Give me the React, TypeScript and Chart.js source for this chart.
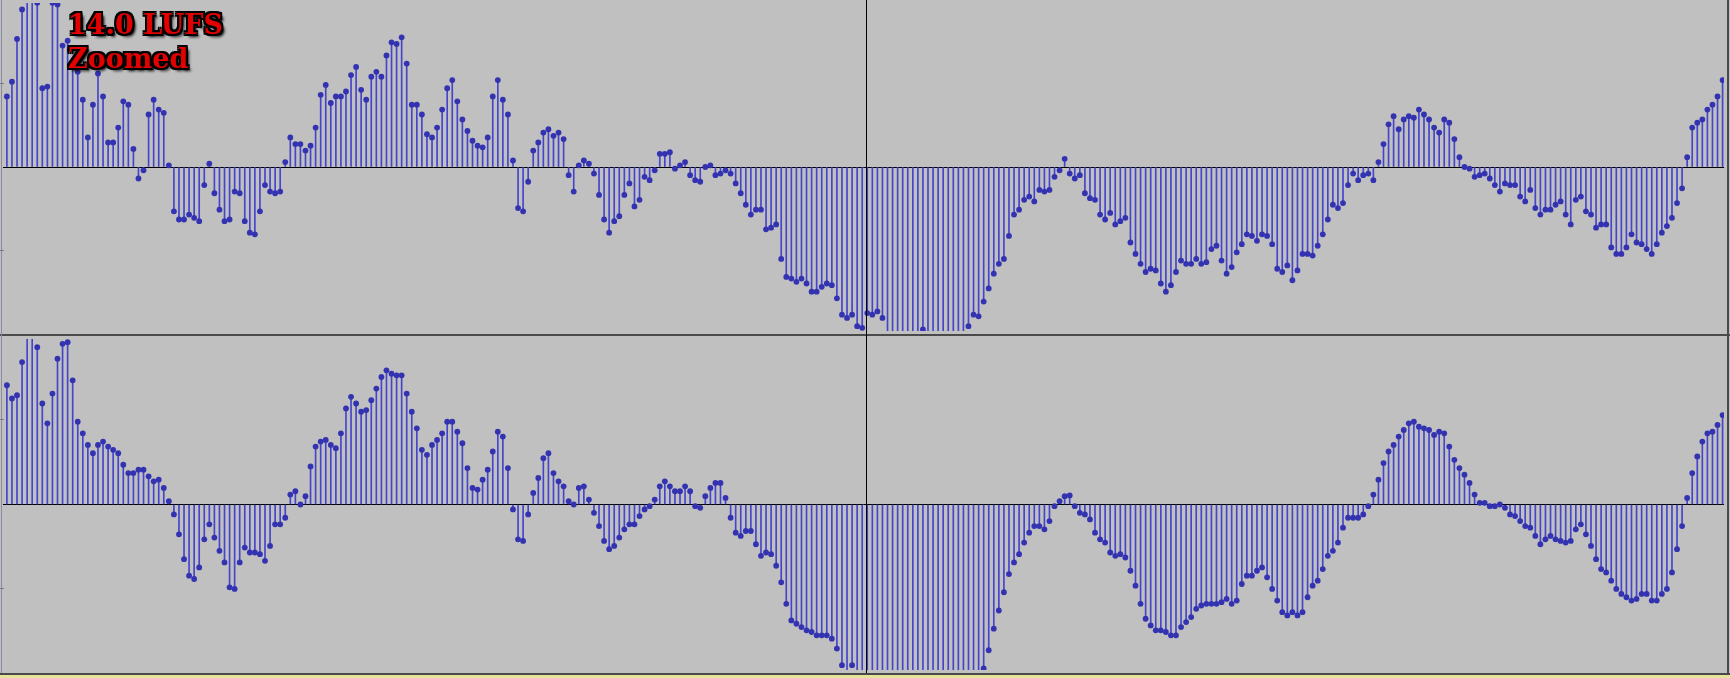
import React, { useEffect, useRef } from "react";
import { Chart, registerables } from "chart.js";

Chart.register(...registerables);

// Top channel (left) sample values, normalised to -1..1 (beyond ±1 is clipped)
const leftSamples: number[] = [
  0.43, 0.52, 0.78, 0.96, 1.1, 1.1, 1.0, 0.48, 0.49, 1.0,
  0.99, 0.74, 0.77, 0.62, 0.58, 0.41, 0.18, 0.38, 0.57, 0.43,
  0.15, 0.15, 0.24, 0.40, 0.38, 0.11, -0.07, -0.02, 0.32, 0.41,
  0.35, 0.33, 0.01, -0.27, -0.32, -0.32, -0.29, -0.31, -0.33, -0.11,
  0.02, -0.16, -0.26, -0.33, -0.32, -0.15, -0.16, -0.33, -0.40, -0.41,
  -0.27, -0.11, -0.15, -0.16, -0.15, 0.03, 0.18, 0.14, 0.14, 0.10,
  0.13, 0.24, 0.44, 0.50, 0.39, 0.43, 0.43, 0.46, 0.56, 0.61,
  0.47, 0.41, 0.55, 0.58, 0.55, 0.68, 0.76, 0.75, 0.79, 0.63,
  0.38, 0.38, 0.32, 0.20, 0.18, 0.24, 0.35, 0.48, 0.53, 0.40,
  0.29, 0.22, 0.16, 0.13, 0.12, 0.18, 0.43, 0.53, 0.41, 0.32,
  0.04, -0.25, -0.27, -0.09, 0.10, 0.15, 0.21, 0.23, 0.19, 0.21,
  0.17, -0.05, -0.15, 0.01, 0.04, 0.02, -0.04, -0.17, -0.32, -0.40,
  -0.33, -0.30, -0.17, -0.10, -0.24, -0.20, -0.06, -0.08, -0.02, 0.08,
  0.08, 0.09, -0.01, 0.01, 0.03, -0.05, -0.08, -0.09, 0.00, 0.01,
  -0.05, -0.04, -0.02, -0.04, -0.10, -0.16, -0.23, -0.29, -0.26, -0.26,
  -0.38, -0.37, -0.35, -0.56, -0.67, -0.68, -0.70, -0.68, -0.71, -0.76,
  -0.76, -0.73, -0.71, -0.72, -0.80, -0.90, -0.92, -0.90, -0.97, -0.98,
  -0.89, -0.90, -0.88, -0.92, -1.1, -1.1, -1.1, -1.1, -1.1, -1.1,
  -1.1, -0.99, -1.1, -1.1, -1.1, -1.1, -1.1, -1.1, -1.1, -1.1,
  -0.97, -0.90, -0.91, -0.82, -0.74, -0.65, -0.59, -0.56, -0.42, -0.29,
  -0.26, -0.20, -0.18, -0.21, -0.14, -0.15, -0.14, -0.06, -0.02, 0.05,
  -0.04, -0.07, -0.05, -0.16, -0.19, -0.20, -0.29, -0.32, -0.28, -0.35,
  -0.33, -0.31, -0.46, -0.53, -0.59, -0.64, -0.62, -0.63, -0.71, -0.76,
  -0.72, -0.64, -0.57, -0.59, -0.59, -0.56, -0.59, -0.58, -0.50, -0.48,
  -0.57, -0.65, -0.61, -0.52, -0.47, -0.41, -0.42, -0.45, -0.41, -0.42,
  -0.47, -0.62, -0.64, -0.60, -0.69, -0.63, -0.53, -0.53, -0.54, -0.48,
  -0.41, -0.32, -0.23, -0.25, -0.22, -0.11, -0.04, -0.08, -0.05, -0.04,
  -0.08, 0.03, 0.14, 0.26, 0.31, 0.23, 0.29, 0.31, 0.30, 0.35,
  0.32, 0.29, 0.24, 0.21, 0.29, 0.27, 0.17, 0.06, 0.00, -0.01,
  -0.06, -0.05, -0.04, -0.07, -0.11, -0.15, -0.10, -0.11, -0.11, -0.18,
  -0.21, -0.14, -0.25, -0.29, -0.26, -0.26, -0.23, -0.21, -0.29, -0.35,
  -0.20, -0.18, -0.27, -0.29, -0.37, -0.35, -0.35, -0.49, -0.53, -0.53,
  -0.49, -0.41, -0.46, -0.47, -0.50, -0.53, -0.47, -0.40, -0.36, -0.31,
  -0.22, -0.13, 0.06, 0.24, 0.27, 0.29, 0.35, 0.38, 0.43, 0.53,
];

// Bottom channel (right) sample values
const rightSamples: number[] = [
  0.72, 0.64, 0.66, 0.86, 1.05, 1.05, 0.95, 0.61, 0.49, 0.67,
  0.88, 0.97, 0.98, 0.75, 0.50, 0.43, 0.36, 0.31, 0.36, 0.38,
  0.35, 0.33, 0.31, 0.24, 0.19, 0.19, 0.21, 0.21, 0.17, 0.14,
  0.15, 0.10, 0.02, -0.06, -0.18, -0.33, -0.43, -0.45, -0.38, -0.21,
  -0.12, -0.20, -0.28, -0.35, -0.50, -0.51, -0.35, -0.26, -0.29, -0.29,
  -0.30, -0.34, -0.25, -0.12, -0.12, -0.08, 0.06, 0.08, 0.00, 0.05,
  0.23, 0.35, 0.38, 0.39, 0.36, 0.34, 0.43, 0.58, 0.65, 0.61,
  0.56, 0.57, 0.63, 0.70, 0.77, 0.81, 0.79, 0.78, 0.78, 0.67,
  0.56, 0.46, 0.33, 0.30, 0.36, 0.39, 0.43, 0.50, 0.50, 0.44,
  0.37, 0.22, 0.10, 0.09, 0.15, 0.21, 0.32, 0.44, 0.41, 0.22,
  -0.03, -0.21, -0.22, -0.06, 0.07, 0.16, 0.28, 0.31, 0.19, 0.14,
  0.11, 0.02, 0.00, 0.10, 0.11, 0.03, -0.05, -0.13, -0.22, -0.27,
  -0.25, -0.20, -0.15, -0.12, -0.12, -0.07, -0.03, -0.01, 0.03, 0.11,
  0.14, 0.11, 0.08, 0.08, 0.11, 0.08, -0.01, -0.02, 0.05, 0.10,
  0.13, 0.13, 0.04, -0.08, -0.17, -0.19, -0.16, -0.16, -0.24, -0.31,
  -0.29, -0.30, -0.37, -0.47, -0.60, -0.70, -0.72, -0.74, -0.76, -0.77,
  -0.79, -0.79, -0.79, -0.81, -0.87, -0.97, -1.05, -0.97, -1.05, -1.05,
  -1.05, -1.05, -1.05, -1.05, -1.05, -1.05, -1.05, -1.05, -1.05, -1.05,
  -1.05, -1.05, -1.05, -1.05, -1.05, -1.05, -1.05, -1.05, -1.05, -1.05,
  -1.05, -1.05, -1.05, -0.99, -0.88, -0.75, -0.64, -0.53, -0.42, -0.35,
  -0.30, -0.23, -0.17, -0.13, -0.13, -0.15, -0.10, -0.01, 0.02, 0.05,
  0.055, -0.01, -0.05, -0.06, -0.09, -0.17, -0.21, -0.23, -0.29, -0.31,
  -0.30, -0.32, -0.40, -0.49, -0.60, -0.69, -0.73, -0.76, -0.76, -0.77,
  -0.79, -0.79, -0.74, -0.71, -0.68, -0.63, -0.61, -0.60, -0.60, -0.60,
  -0.59, -0.57, -0.60, -0.58, -0.48, -0.43, -0.43, -0.40, -0.38, -0.44,
  -0.51, -0.58, -0.65, -0.67, -0.65, -0.67, -0.65, -0.56, -0.49, -0.46,
  -0.39, -0.31, -0.28, -0.23, -0.14, -0.08, -0.08, -0.08, -0.06, -0.01,
  0.06, 0.15, 0.25, 0.32, 0.36, 0.41, 0.45, 0.49, 0.50, 0.47,
  0.46, 0.45, 0.42, 0.44, 0.43, 0.35, 0.27, 0.22, 0.18, 0.13,
  0.06, 0.01, 0.01, -0.01, -0.01, 0.00, -0.02, -0.06, -0.07, -0.10,
  -0.13, -0.14, -0.19, -0.24, -0.21, -0.19, -0.21, -0.22, -0.23, -0.22,
  -0.15, -0.12, -0.18, -0.25, -0.33, -0.39, -0.41, -0.46, -0.51, -0.54,
  -0.56, -0.58, -0.57, -0.54, -0.54, -0.58, -0.58, -0.54, -0.51, -0.41,
  -0.27, -0.13, 0.04, 0.19, 0.29, 0.38, 0.43, 0.44, 0.48, 0.54,
];

const titleLines: string[] = ["14.0 LUFS", "Zoomed"];

const BG = "#c0c0c0";

function Channel({ values, top, height }: { values: number[]; top: number; height: number }) {
  const ref = useRef<HTMLCanvasElement | null>(null);
  useEffect(() => {
    if (!ref.current) return;
    const pts = values.map((v, i) => ({ x: i, y: v }));
    const chart = new Chart(ref.current, {
      type: "bar",
      data: {
        datasets: [
          {
            type: "line",
            data: pts,
            showLine: false,
            pointRadius: 2.9,
            pointHoverRadius: 2.9,
            pointBackgroundColor: "#3333b2",
            pointBorderWidth: 0,
            order: 0,
          } as any,
          {
            type: "bar",
            data: pts,
            backgroundColor: "#4444cc",
            barThickness: 1,
            borderWidth: 0,
            grouped: false,
            order: 1,
          } as any,
        ],
      },
      options: {
        animation: false,
        responsive: true,
        maintainAspectRatio: false,
        events: [],
        layout: { padding: 0 },
        plugins: { legend: { display: false }, tooltip: { enabled: false } },
        scales: {
          x: { type: "linear", min: -0.788, max: 339.3, offset: false, display: false },
          y: {
            min: -1,
            max: 1,
            display: true,
            ticks: { display: false, stepSize: 1 },
            grid: {
              color: (c: any) => (Math.abs(c.tick.value) < 1e-9 ? "#000000" : "rgba(0,0,0,0)"),
              drawTicks: false,
              lineWidth: 1,
            },
            border: { display: false },
            afterFit: (s: any) => {
              s.width = 0;
            },
          },
        },
      } as any,
    });
    return () => chart.destroy();
  }, [values]);
  return (
    <div style={{ position: "absolute", left: 0, top, width: 1727, height }}>
      <canvas ref={ref} />
    </div>
  );
}

export default function App() {
  useEffect(() => {
    document.body.style.margin = "0";
    document.body.style.background = BG;
  }, []);
  const tick = (t: number) => (
    <div style={{ position: "absolute", left: 0, top: t, width: 4, height: 1, background: "#7a7a8a" }} />
  );
  const outline =
    "2px 0 0 #000, -2px 0 0 #000, 0 2px 0 #000, 0 -2px 0 #000, 2px 2px 0 #000, -2px -2px 0 #000, 2px -2px 0 #000, -2px 2px 0 #000, 3px 3px 3px #000";
  return (
    <div style={{ position: "relative", width: 1730, height: 678, background: BG, overflow: "hidden" }}>
      <Channel values={leftSamples} top={0} height={334} />
      <Channel values={rightSamples} top={336} height={337} />
      {/* separators and borders */}
      <div style={{ position: "absolute", left: 0, top: 334, width: 1730, height: 2, background: "#4a4a4a" }} />
      <div style={{ position: "absolute", left: 0, top: 673, width: 1730, height: 2, background: "#4a4a4a" }} />
      <div style={{ position: "absolute", left: 0, top: 675, width: 1730, height: 3, background: "#e4e49c" }} />
      <div style={{ position: "absolute", left: 1727, top: 0, width: 2, height: 675, background: "#4a4a4a" }} />
      <div style={{ position: "absolute", left: 1, top: 0, width: 1, height: 673, background: "#8a8aa0" }} />
      {tick(83)}
      {tick(250)}
      {tick(419)}
      {tick(588)}
      {/* play cursor */}
      <div style={{ position: "absolute", left: 866, top: 0, width: 1, height: 673, background: "#000" }} />
      <div
        style={{
          position: "absolute",
          left: 68,
          top: 8,
          fontFamily: "'DejaVu Serif', serif",
          fontWeight: 700,
          fontSize: 27,
          lineHeight: "34px",
          color: "#e30000",
          textShadow: outline,
          whiteSpace: "pre",
        }}
      >
        {titleLines.map((l) => (
          <div key={l}>{l}</div>
        ))}
      </div>
    </div>
  );
}
